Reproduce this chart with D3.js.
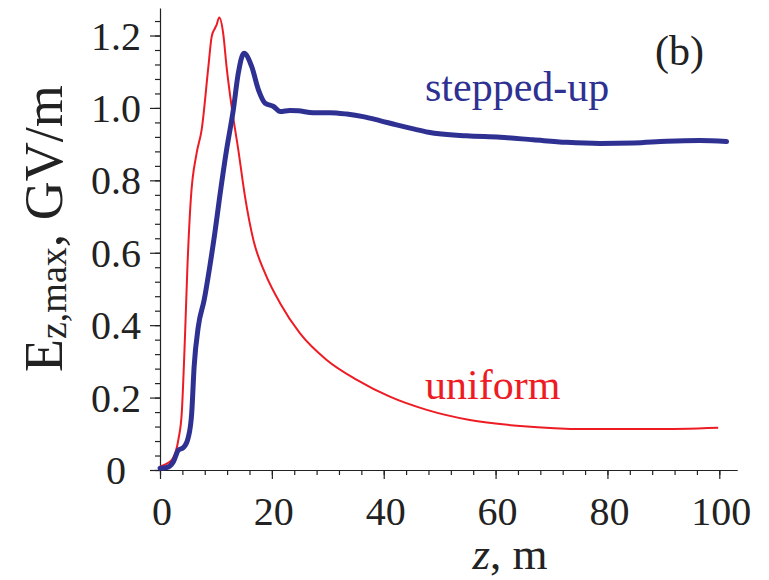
<!DOCTYPE html>
<html>
<head>
<meta charset="utf-8">
<script src="https://cdn.jsdelivr.net/npm/d3@7"></script>
<style>
  body { margin: 0; background: #fff; }
</style>
</head>
<body>
<div id="chart"></div>
<script>
var width = 769,
  height = 580;

// uniform (red)
var zUniform = [0, 2.1, 3.3, 3.9, 4.47, 4.9, 5.5, 6.55, 7.45, 8.65, 9.24, 9.83, 10.1, 10.6, 11.3, 11.9, 12.8, 14.0, 15.2, 16.7, 18.8, 21.5, 25.0, 29.8, 35.2, 41.1, 47.7, 55.4, 64.4, 76.3, 88.2, 99.8];
var eUniform = [0.01, 0.028, 0.085, 0.16, 0.37, 0.56, 0.746, 0.875, 0.94, 1.114, 1.197, 1.22, 1.229, 1.25, 1.206, 1.114, 1.004, 0.884, 0.755, 0.635, 0.543, 0.46, 0.378, 0.304, 0.249, 0.2025, 0.166, 0.138, 0.1215, 0.113, 0.113, 0.117];

// stepped-up (blue)
var zStepped = [0, 1.2, 2.4, 3.3, 4.2, 5.06, 5.67, 6.1, 6.85, 7.9, 8.9, 9.8, 10.6, 11.9, 13.1, 14.0, 15.0, 16.4, 17.6, 18.8, 20.3, 21.5, 23.2, 24.7, 27.4, 30.4, 33.4, 36.3, 39.3, 42.3, 45.3, 48.0, 54.8, 60.8, 66.7, 72.7, 78.7, 84.6, 90.6, 96.5, 101.3];
var eStepped = [0.005, 0.007, 0.023, 0.055, 0.062, 0.09, 0.157, 0.285, 0.396, 0.47, 0.562, 0.654, 0.746, 0.884, 0.994, 1.096, 1.151, 1.114, 1.05, 1.013, 1.004, 0.99, 0.993, 0.992, 0.987, 0.987, 0.983, 0.976, 0.965, 0.953, 0.942, 0.933, 0.923, 0.919, 0.912, 0.905, 0.902, 0.903, 0.908, 0.91, 0.907];

var xMajor = [0, 20, 40, 60, 80, 100];
var xMinor = d3.range(0, 104, 4);
var yMajor = [0, 0.2, 0.4, 0.6, 0.8, 1.0, 1.2];
var yMinor = d3.range(0, 1.27, 0.04);
var yLabels = ['0', '0.2', '0.4', '0.6', '0.8', '1.0', '1.2'];

var RED = '#ed1c24',
  BLUE = '#2e3192',
  FONT = '"Liberation Serif", "Times New Roman", Tinos, serif';

var svg = d3.select('#chart')
  .append('svg')
  .attr('width', width)
  .attr('height', height)
  .attr('font-family', FONT);

var x = d3.scaleLinear().domain([0, 103.2]).range([160, 737.2]);
var y = d3.scaleLinear().domain([0, 1.276]).range([470, 8]);

// axes lines + ticks (minor then major)
svg.append('g')
  .attr('transform', 'translate(0,470)')
  .call(d3.axisBottom(x).tickValues(xMinor).tickSize(5).tickSizeOuter(0).tickFormat(''))
  .call(g => g.selectAll('line,path').attr('stroke', '#222').attr('stroke-width', 1.2));

svg.append('g')
  .attr('transform', 'translate(0,470)')
  .call(d3.axisBottom(x).tickValues(xMajor).tickSize(9).tickSizeOuter(0).tickFormat(''))
  .call(g => g.select('path').remove())
  .call(g => g.selectAll('line').attr('stroke', '#222').attr('stroke-width', 1.2));

svg.append('g')
  .attr('transform', 'translate(160,0)')
  .call(d3.axisLeft(y).tickValues(yMinor).tickSize(5).tickSizeOuter(0).tickFormat(''))
  .call(g => g.selectAll('line,path').attr('stroke', '#222').attr('stroke-width', 1.2));

svg.append('g')
  .attr('transform', 'translate(160,0)')
  .call(d3.axisLeft(y).tickValues(yMajor).tickSize(10).tickSizeOuter(0).tickFormat(''))
  .call(g => g.select('path').remove())
  .call(g => g.selectAll('line').attr('stroke', '#222').attr('stroke-width', 1.2));

// tick labels
svg.append('g')
  .selectAll('text')
  .data(xMajor)
  .join('text')
  .attr('x', d => x(d) + 2)
  .attr('y', 525)
  .attr('text-anchor', 'middle')
  .attr('font-size', 40)
  .attr('fill', '#222')
  .text(d => d);

svg.append('g')
  .selectAll('text')
  .data(yMajor)
  .join('text')
  .attr('x', 116)
  .attr('y', d => y(d) + 14)
  .attr('text-anchor', 'middle')
  .attr('font-size', 40)
  .attr('fill', '#222')
  .text((d, i) => yLabels[i]);

// curves
var line = d3.line()
  .x(d => x(d[0]))
  .y(d => y(d[1]))
  .curve(d3.curveMonotoneX);

svg.append('path')
  .datum(d3.zip(zUniform, eUniform))
  .attr('d', line)
  .attr('fill', 'none')
  .attr('stroke', RED)
  .attr('stroke-width', 2);

svg.append('path')
  .datum(d3.zip(zStepped, eStepped))
  .attr('d', line)
  .attr('fill', 'none')
  .attr('stroke', BLUE)
  .attr('stroke-width', 5)
  .attr('stroke-linecap', 'round')
  .attr('stroke-linejoin', 'round');

// labels
svg.append('text')
  .attr('x', 425)
  .attr('y', 101)
  .attr('font-size', 42)
  .attr('fill', BLUE)
  .text('stepped-up');

svg.append('text')
  .attr('x', 425)
  .attr('y', 399)
  .attr('font-size', 42)
  .attr('fill', RED)
  .text('uniform');

svg.append('text')
  .attr('x', 655)
  .attr('y', 65)
  .attr('font-size', 42)
  .attr('fill', '#222')
  .text('(b)');

// x title
var xt = svg.append('text')
  .attr('x', 510)
  .attr('y', 569)
  .attr('text-anchor', 'middle')
  .attr('font-size', 45)
  .attr('fill', '#222');
xt.append('tspan').attr('font-style', 'italic').text('z');
xt.append('tspan').text(', m');

// y title
var yt = svg.append('text')
  .attr('transform', 'translate(62,372) rotate(-90)')
  .attr('font-size', 54)
  .attr('fill', '#222');
yt.append('tspan').text('E');
yt.append('tspan').attr('font-size', 38).attr('dy', 4).text('z,max');
yt.append('tspan').attr('dy', -4).text(', GV/m');
</script>
</body>
</html>
